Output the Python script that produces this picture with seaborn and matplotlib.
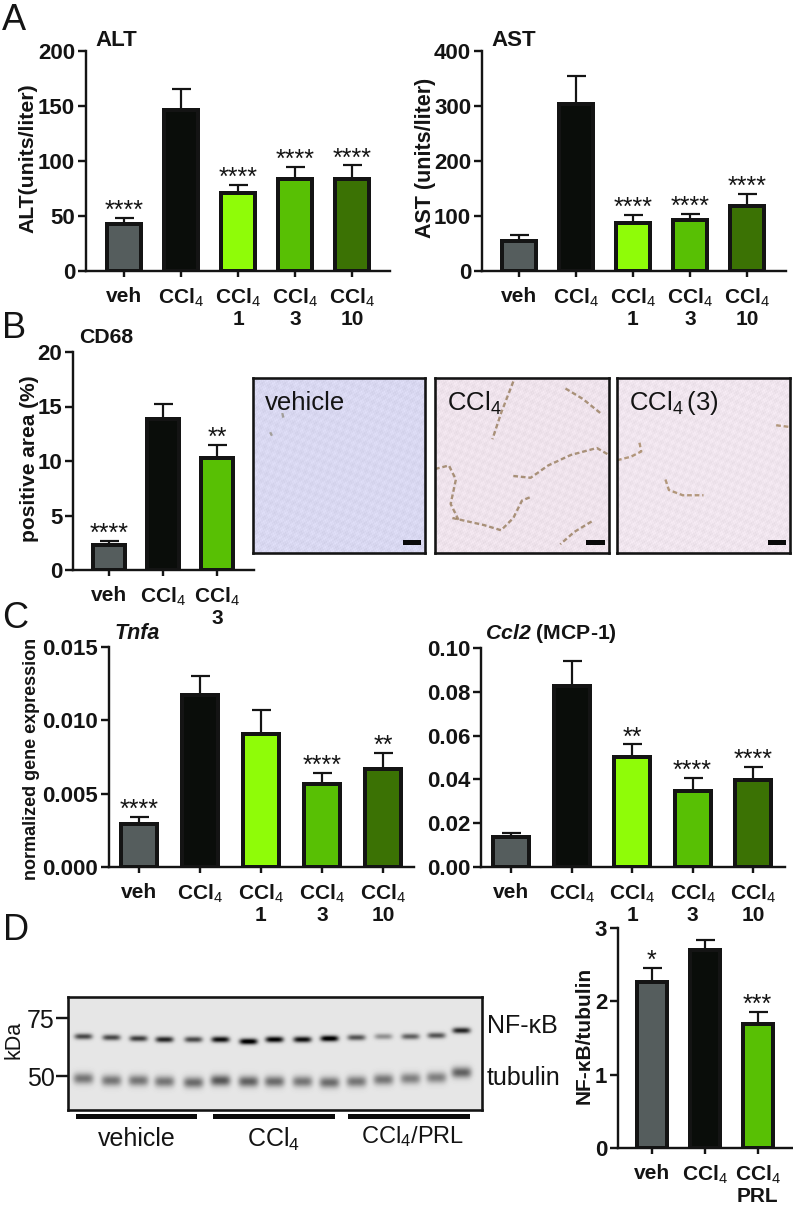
"""Liver panels: serum enzymes, CD68 staining, cytokine expression and NF-kB blot."""
import matplotlib
matplotlib.use("Agg")
import matplotlib.pyplot as plt
import numpy as np
import seaborn as sns
from matplotlib.colors import to_rgb
from matplotlib.patches import Rectangle

W, H = 793, 1209

CCL = r"CCl$_{\mathrm{4}}$"
LABELS_5 = ["veh", CCL, CCL + "\n1", CCL + "\n3", CCL + "\n10"]
LABELS_3 = ["veh", CCL, CCL + "\n3"]
LABELS_PRL = ["veh", CCL, CCL + "\nPRL"]

GREY, BLACK, LIME, GREEN, DARK = "#555d5d", "#0a0d0a", "#8ffc08", "#58c004", "#3b7204"
COLORS_5 = [GREY, BLACK, LIME, GREEN, DARK]
COLORS_3 = [GREY, BLACK, GREEN]

alt_vals = [43, 146, 71, 84, 84]
alt_tops = [48, 165, 78, 95, 96]
alt_stars = ["****", "", "****", "****", "****"]

ast_vals = [55, 304, 87, 92, 118]
ast_tops = [65, 354, 102, 104, 140]
ast_stars = ["", "", "****", "****", "****"]

cd68_vals = [2.25, 13.85, 10.25]
cd68_tops = [2.7, 15.2, 11.5]
cd68_stars = ["****", "", "**"]

tnfa_vals = [0.00296, 0.01176, 0.00906, 0.00566, 0.00666]
tnfa_tops = [0.0034, 0.0130, 0.0107, 0.0064, 0.0078]
tnfa_stars = ["****", "", "", "****", "**"]

ccl2_vals = [0.0136, 0.0826, 0.0501, 0.0346, 0.0396]
ccl2_tops = [0.0155, 0.094, 0.056, 0.0405, 0.0455]
ccl2_stars = ["", "", "**", "****", "****"]

nfkb_vals = [2.26, 2.70, 1.69]
nfkb_tops = [2.46, 2.83, 1.85]
nfkb_stars = ["*", "", "***"]

# blot lanes (x in px, y in px, darkness 0-1)
lane_x = [83, 111, 138, 164, 193, 220, 248, 274, 302, 329, 356, 383, 410, 436, 461]
nfkb_y = [1036, 1037, 1038, 1039, 1039, 1039, 1041, 1039, 1039, 1038, 1037, 1036, 1036, 1035, 1030]
nfkb_dark = [0.65, 0.65, 0.7, 0.8, 0.65, 0.9, 1.0, 0.95, 0.9, 1.0, 0.6, 0.35, 0.55, 0.6, 0.8]
tub_y = [1078, 1080, 1080, 1081, 1082, 1080, 1081, 1081, 1081, 1082, 1081, 1079, 1078, 1077, 1072]
tub_dark = [0.55, 0.55, 0.55, 0.55, 0.6, 0.7, 0.65, 0.6, 0.55, 0.6, 0.55, 0.55, 0.5, 0.5, 0.65]

# stained tracks in the micrographs, as panel fractions
tracks_ccl4 = [
    [(0.0, 0.52), (0.08, 0.5), (0.12, 0.58), (0.09, 0.72), (0.14, 0.82)],
    [(0.45, 0.56), (0.55, 0.57), (0.65, 0.5), (0.78, 0.44), (0.93, 0.4), (1.0, 0.44)],
    [(0.1, 0.8), (0.28, 0.84), (0.38, 0.87), (0.45, 0.8), (0.5, 0.7), (0.55, 0.68)],
    [(0.75, 0.06), (0.85, 0.12), (0.95, 0.2)],
    [(0.45, 0.02), (0.38, 0.2), (0.33, 0.35)],
    [(0.9, 0.82), (0.8, 0.88), (0.72, 0.95)],
]
tracks_ccl4_3 = [
    [(0.0, 0.47), (0.08, 0.45), (0.14, 0.42), (0.13, 0.37)],
    [(0.28, 0.58), (0.3, 0.64), (0.38, 0.67), (0.5, 0.67)],
    [(0.92, 0.27), (1.0, 0.28)],
]
tracks_vehicle = [[(0.17, 0.2), (0.18, 0.24)], [(0.1, 0.31), (0.11, 0.33)]]

sns.set_theme(style="ticks")
plt.rcParams["font.family"] = ["Liberation Sans", "DejaVu Sans"]
plt.rcParams["mathtext.fontset"] = "custom"
plt.rcParams["mathtext.rm"] = "Liberation Sans"
plt.rcParams["mathtext.bf"] = "Liberation Sans:bold"
plt.rcParams["mathtext.it"] = "Liberation Sans:italic"
plt.rcParams["mathtext.bfit"] = "Liberation Sans:italic:bold"

PX = 0.72  # points per pixel at dpi 100
INK = "#141414"

fig = plt.figure(figsize=(W / 100, H / 100), dpi=100)


def px_axes(left, right, top, bottom):
    return fig.add_axes([left / W, 1 - bottom / H, (right - left) / W, (bottom - top) / H])


def put(x, y, s, size, **kw):
    kw.setdefault("ha", "left")
    kw.setdefault("va", "center")
    kw.setdefault("color", INK)
    fig.text(x / W, 1 - y / H, s, fontsize=size, **kw)


def bars(box, first, step, bar_w, labels, colors, vals, tops, stars, ymax, yticks, fmt,
         tick_size=16):
    left, right, top, bottom = box
    ax = px_axes(left, right, top, bottom)
    sns.barplot(x=labels, y=vals, hue=labels, palette=colors, order=labels, hue_order=labels,
                width=bar_w / step, dodge=False, saturation=1, errorbar=None, legend=False,
                edgecolor=INK, linewidth=4 * PX, ax=ax)
    pos = np.arange(len(vals))
    ups = np.array(tops) - np.array(vals)
    ax.errorbar(pos, vals, yerr=[np.zeros(len(vals)), ups], fmt="none", ecolor=INK,
                elinewidth=2.2 * PX, capsize=9.5 * PX, capthick=2.2 * PX, zorder=1)
    for x, t, s in zip(pos, tops, stars):
        if s:
            ax.annotate(s, (x, t), xytext=(0, 0), textcoords="offset points",
                        ha="center", va="baseline", fontsize=18, color=INK)
    ax.set_xlim((left - first) / step, (right - first) / step)
    ax.set_ylim(0, ymax)
    ax.set_yticks(yticks)
    ax.set_yticklabels([fmt.format(v) for v in yticks], fontweight="bold", fontsize=tick_size, color=INK)
    ax.tick_params(axis="y", length=8 * PX, width=2.4 * PX, pad=2, color=INK)
    ax.tick_params(axis="x", length=6 * PX, width=2.4 * PX, pad=7, color=INK)
    for lbl in ax.get_xticklabels():
        lbl.set_fontweight("bold")
        lbl.set_fontsize(15)
        lbl.set_color(INK)
        lbl.set_linespacing(1.05)
    ax.set_xlabel("")
    ax.set_ylabel("")
    ax.patch.set_alpha(0)
    sns.despine(ax=ax)
    ax.spines["left"].set_linewidth(2.4 * PX)
    ax.spines["bottom"].set_linewidth(2.4 * PX)
    ax.spines["left"].set_color(INK)
    ax.spines["bottom"].set_color(INK)
    return ax


def mottle(width, height, tint):
    # tissue grain, only a background texture for the photo panels
    y, x = np.mgrid[0:height:1.0, 0:width:1.0]
    grain = (np.sin(1.37 * x + 2.11 * y) + np.sin(2.73 * x - 1.19 * y)
             + np.sin(0.83 * x + 0.47 * y + np.sin(0.31 * y)) + np.sin(0.29 * x - 0.71 * y)) / 4
    rgb = np.array(to_rgb(tint))[None, None, :] + 0.045 * grain[:, :, None]
    return np.clip(rgb, 0, 1)


# panel A
bars((86, 390, 51, 271), 124, 57, 34, LABELS_5, COLORS_5, alt_vals, alt_tops, alt_stars,
     200, [0, 50, 100, 150, 200], "{:d}")
bars((482, 786, 51, 271), 519, 57, 34, LABELS_5, COLORS_5, ast_vals, ast_tops, ast_stars,
     400, [0, 100, 200, 300, 400], "{:d}")
put(2, 21, "A", 26)
put(95, 40, "ALT", 16, fontweight="bold")
put(491, 40, "AST", 16, fontweight="bold")
put(28, 158, "ALT(units/liter)", 15.3, fontweight="bold", rotation=90, ha="center")
put(425, 158, "AST (units/liter)", 15.5, fontweight="bold", rotation=90, ha="center")

# panel B
bars((73, 254, 352, 570), 109, 54, 32, LABELS_3, COLORS_3, cd68_vals, cd68_tops, cd68_stars,
     20, [0, 5, 10, 15, 20], "{:d}")
put(2, 329, "B", 26)
put(79, 337, "CD68", 15.3, fontweight="bold")
put(30, 459, "positive area (%)", 15, fontweight="bold", rotation=90, ha="center")

photos = [
    (253, 425, "#d9d8f1", "#7d7860", tracks_vehicle, "vehicle"),
    (435, 609, "#efe3ec", "#7a5a2c", tracks_ccl4, r"$\mathrm{CCl_4}$"),
    (617, 790, "#f0e5ee", "#8a6430", tracks_ccl4_3, r"$\mathrm{CCl_4\,(3)}$"),
]
for left, right, tint, stain, tracks, name in photos:
    ax = px_axes(left, right, 378, 553)
    ax.imshow(mottle(right - left, 175, tint), extent=(0, 1, 1, 0), aspect="auto",
              interpolation="bilinear")
    ax.set_xlim(0, 1)
    ax.set_ylim(1, 0)
    ax.set_xticks([])
    ax.set_yticks([])
    for path in tracks:
        xs, ys = zip(*path)
        ax.plot(xs, ys, color=stain, lw=1.7, alpha=0.6, ls=(0, (2, 1.2)))
    ax.add_patch(Rectangle((0.87, 0.925), 0.105, 0.03, color="#0a0a0a", lw=0))
    for sp in ax.spines.values():
        sp.set_linewidth(2.6 * PX)
        sp.set_color(INK)
    ax.text(0.07, 0.145, name, fontsize=18.5, color=INK, va="center", ha="left")

# panel C
bars((109, 414, 647, 867), 139, 61, 36, LABELS_5, COLORS_5, tnfa_vals, tnfa_tops, tnfa_stars,
     0.015, [0.0, 0.005, 0.010, 0.015], "{:.3f}")
bars((481, 785, 648, 867), 511, 60.5, 36, LABELS_5, COLORS_5, ccl2_vals, ccl2_tops, ccl2_stars,
     0.10, [0.0, 0.02, 0.04, 0.06, 0.08, 0.10], "{:.2f}")
put(2, 619, "C", 26)
put(114, 634, "Tnfa", 15.5, fontweight="bold", fontstyle="italic")
put(485, 634, r"$\mathbfit{Ccl2}$ (MCP-1)", 15.3, fontweight="bold")
put(32, 759, "normalized gene expression", 13, fontweight="bold", rotation=90, ha="center")

# panel D
blot = px_axes(68, 482, 997, 1110)
yy, xx = np.mgrid[997:1110:1.0, 68:482:1.0]
img = np.full(xx.shape, 0.90)
for x0, y0, d in zip(lane_x, nfkb_y, nfkb_dark):
    img -= 0.95 * d * np.exp(-((xx - x0) / 9.0) ** 4 - ((yy - y0) / 3.0) ** 2)
for x0, y0, d in zip(lane_x, tub_y, tub_dark):
    img -= 0.8 * d * np.exp(-((xx - x0) / 10.0) ** 4 - ((yy - y0) / 5.5) ** 2)
blot.imshow(np.clip(img, 0, 1), cmap="gray", vmin=0, vmax=1, aspect="auto",
            extent=(68, 482, 1110, 997), interpolation="bilinear")
blot.set_xticks([])
blot.set_yticks([1018, 1076])
blot.set_yticklabels(["75", "50"], fontsize=18, color=INK)
blot.tick_params(axis="y", length=12 * PX, width=2.4 * PX, pad=1, color=INK)
for sp in blot.spines.values():
    sp.set_linewidth(2.6 * PX)
    sp.set_color(INK)

for x0, x1 in [(76, 197), (213, 335), (348, 470)]:
    fig.add_artist(Rectangle((x0 / W, 1 - 1119 / H), (x1 - x0) / W, 5 / H,
                             color="#0a0a0a", lw=0))
put(3, 930, "D", 26)
put(14, 1040, "kDa", 15.5, rotation=90, ha="center")
put(487, 1026, "NF-κB", 18)
put(487, 1078, "tubulin", 18)
put(137, 1139, "vehicle", 18, ha="center")
put(274, 1139, r"$\mathrm{CCl_4}$", 18, ha="center")
put(413, 1137, r"$\mathrm{CCl_4/PRL}$", 17, ha="center")

bars((618, 793, 928, 1148), 651.5, 53, 30, LABELS_PRL, COLORS_3, nfkb_vals, nfkb_tops, nfkb_stars,
     3, [0, 1, 2, 3], "{:d}")
put(584, 1035, "NF-κB/tubulin", 15, fontweight="bold", rotation=90, ha="center")

fig.savefig("out.png", dpi=100)
